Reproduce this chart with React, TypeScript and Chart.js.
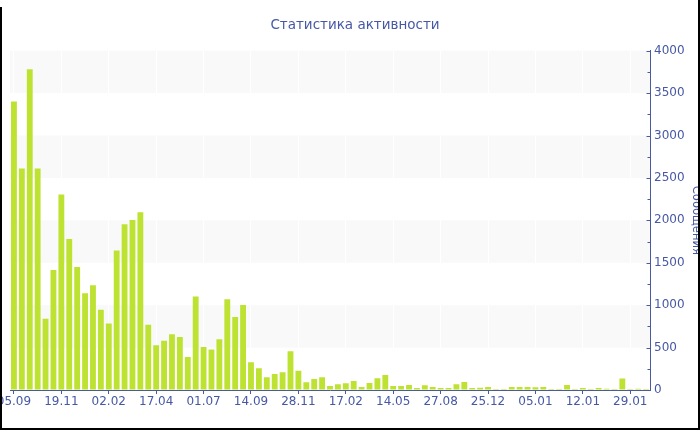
import React, { useEffect, useRef } from "react";
import { Chart, registerables } from "chart.js";

Chart.register(...registerables);

const titleText = "Статистика активности";
const yAxisTitle = "Сообщения";
const tickLabels = ["05.09", "19.11", "02.02", "17.04", "01.07", "14.09", "28.11", "17.02", "14.05", "27.08", "25.12", "05.01", "12.01", "29.01"];
const labelEvery = 6;
const messages = [
  3400, 2610, 3780, 2610, 840, 1415, 2305, 1780, 1450, 1140,
  1235, 945, 785, 1645, 1955, 2005, 2095, 770, 527, 582,
  657, 625, 389, 1101, 507, 476, 598, 1070, 860, 1003,
  327, 256, 150, 189, 208, 456, 228, 90, 130, 150,
  47, 67, 79, 106, 35, 83, 138, 177, 47, 47,
  59, 24, 55, 35, 24, 24, 67, 94, 24, 27,
  35, 12, 12, 35, 35, 35, 31, 35, 12, 12,
  59, 12, 24, 12, 24, 16, 12, 136, 12, 16, 12,
];
const yMin = 0;
const yMax = 4000;
const yStep = 500;

const categories = messages.map((_, i) => (i % labelEvery === 0 ? tickLabels[i / labelEvery] ?? "" : ""));

const FONT = "'DejaVu Sans', Verdana, sans-serif";
const TEXT_COLOR = "#4658a4";
const AXIS_COLOR = "#4a5aa0";
const BAR_COLOR = "#bde232";
const BAND_COLOR = "#f9f9f9";

const bandPlugin = {
  id: "bandsAndTicks",
  beforeDraw(chart: any) {
    const { ctx, chartArea, scales } = chart;
    const y = scales.y;
    ctx.save();
    ctx.fillStyle = BAND_COLOR;
    y.ticks.forEach((t: any, i: number) => {
      if (i % 2 === 1 && i + 1 < y.ticks.length) {
        const top = y.getPixelForValue(y.ticks[i + 1].value);
        const bottom = y.getPixelForValue(t.value);
        ctx.fillRect(chartArea.left, top, chartArea.right - chartArea.left, bottom - top);
      }
    });
    ctx.restore();
  },
  afterDraw(chart: any) {
    const { ctx, scales } = chart;
    const y = scales.y;
    const x0 = Math.round(y.left) + 0.5;
    ctx.save();
    ctx.strokeStyle = AXIS_COLOR;
    ctx.lineWidth = 1;
    for (let v = yMin; v <= yMax; v += yStep / 2) {
      const major = v % yStep === 0;
      const py = Math.round(y.getPixelForValue(v)) + 0.5;
      ctx.beginPath();
      ctx.moveTo(x0 - (major ? 4 : 3), py);
      ctx.lineTo(x0, py);
      ctx.stroke();
    }
    ctx.restore();
  },
};

export default function App() {
  const canvasRef = useRef<HTMLCanvasElement | null>(null);

  useEffect(() => {
    document.body.style.margin = "0";
    const canvas = canvasRef.current;
    if (!canvas) return;
    const chart = new Chart(canvas, {
      type: "bar",
      data: {
        labels: categories,
        datasets: [
          {
            label: yAxisTitle,
            data: messages,
            backgroundColor: BAR_COLOR,
            borderWidth: 0,
            categoryPercentage: 1,
            barPercentage: 0.74,
          },
        ],
      },
      options: {
        responsive: false,
        animation: false,
        layout: { padding: { left: 10, right: 0, top: 0, bottom: 0 } },
        plugins: {
          legend: { display: false },
          tooltip: { enabled: false },
          title: {
            display: true,
            text: titleText,
            color: TEXT_COLOR,
            font: { family: FONT, size: 13.5, weight: "normal" },
            padding: { top: 17, bottom: 17.5 },
          },
        },
        scales: {
          x: {
            grid: {
              display: true,
              offset: false,
              color: "#ffffff",
              lineWidth: 1,
              drawOnChartArea: true,
              drawTicks: true,
              tickLength: 4,
              tickColor: AXIS_COLOR,
            },
            border: { display: true, color: AXIS_COLOR, width: 1 },
            ticks: {
              autoSkip: false,
              maxRotation: 0,
              minRotation: 0,
              padding: 1,
              color: TEXT_COLOR,
              font: { family: FONT, size: 12 },
            },
            afterBuildTicks: (scale: any) => {
              scale.ticks = scale.ticks.filter((t: any) => categories[t.value] !== "");
            },
            afterFit: (scale: any) => {
              scale.height = 40;
              scale.paddingLeft = 0;
              scale.paddingRight = 0;
            },
          },
          y: {
            position: "right",
            min: yMin,
            max: yMax,
            grid: { display: true, drawOnChartArea: false, drawTicks: false },
            border: { display: true, color: AXIS_COLOR, width: 1 },
            ticks: {
              stepSize: yStep,
              padding: 4,
              color: TEXT_COLOR,
              font: { family: FONT, size: 12 },
              callback: (v: any) => String(v),
            },
            title: {
              display: true,
              text: yAxisTitle,
              color: TEXT_COLOR,
              font: { family: FONT, size: 11.5, weight: "normal" },
              padding: { top: -3, bottom: 0 },
            },
            afterFit: (scale: any) => {
              scale.width = 50;
            },
          },
        },
      },
      plugins: [bandPlugin],
    } as any);
    return () => chart.destroy();
  }, []);

  return (
    <div style={{ position: "fixed", left: 0, top: 0, width: 700, height: 430, background: "#ffffff" }}>
      <canvas ref={canvasRef} width={700} height={430} style={{ position: "absolute", left: 0, top: 0 }} />
      <div style={{ position: "absolute", left: 0, top: 7, width: 2, height: 423, background: "#000" }} />
      <div style={{ position: "absolute", left: 698, top: 0, width: 2, height: 430, background: "#000" }} />
      <div style={{ position: "absolute", left: 0, top: 428, width: 700, height: 2, background: "#000" }} />
    </div>
  );
}
